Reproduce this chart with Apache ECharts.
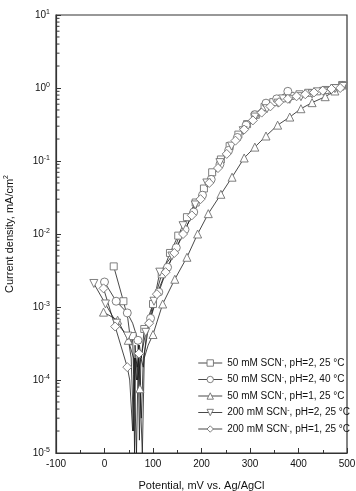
<!DOCTYPE html>
<html><head><meta charset="utf-8">
<script src="https://cdn.jsdelivr.net/npm/echarts@6/dist/echarts.min.js"></script>
<style>html,body{margin:0;padding:0;background:#fff}#c{width:356px;height:491px}</style>
</head><body><div id="c"></div>
<script>
// ---- data: [potential mV, current density mA/cm2] ----
const seriesNames = [
  '50 mM SCN⁻, pH=2, 25 °C',
  '50 mM SCN⁻, pH=2, 40 °C',
  '50 mM SCN⁻, pH=1, 25 °C',
  '200 mM SCN⁻, pH=2, 25 °C',
  '200 mM SCN⁻, pH=1, 25 °C'
];
// marked points
const sqMarks = [[19,3.6e-3],[39,1.2e-3],[58,4.0e-4],[82,5e-4],[100,1.1e-3],[118,2.8e-3],[135,5.5e-3],[152,9.5e-3],[170,1.7e-2],[188,2.7e-2],[205,4.2e-2],[222,7e-2],[240,1.05e-1],[258,1.6e-1],[276,2.3e-1],[294,3.2e-1],[312,4.3e-1],[330,5.5e-1],[348,6.4e-1],[366,7.2e-1],[384,7.8e-1],[402,8.2e-1],[420,8.6e-1],[438,9.0e-1],[456,9.4e-1],[474,1.0],[490,1.1]];
const ciMarks = [[0,2.2e-3],[24,1.2e-3],[47,8.3e-4],[69,3.5e-4],[95,7e-4],[112,1.6e-3],[130,3.5e-3],[148,6.5e-3],[166,1.15e-2],[184,2e-2],[202,3.4e-2],[220,5.6e-2],[238,9e-2],[256,1.4e-1],[274,2.1e-1],[292,3.1e-1],[310,4.3e-1],[333,6.2e-1],[355,7.1e-1],[378,9.0e-1]];
const tuMarks = [[-2,8.5e-4],[27,6.6e-4],[49,3.5e-4],[73,7.6e-5],[100,4.2e-4],[120,1.1e-3],[145,2.4e-3],[170,4.8e-3],[192,1.0e-2],[214,1.9e-2],[240,3.5e-2],[263,6e-2],[288,1.1e-1],[310,1.55e-1],[333,2.2e-1],[357,3.1e-1],[382,4e-1],[405,5.2e-1],[428,6.3e-1],[455,7.6e-1],[475,9.1e-1],[490,1.1]];
const tdMarks = [[-22,2.1e-3],[2,1.1e-3],[25,6e-4],[48,4e-4],[85,4.5e-4],[102,1.2e-3],[114,3e-3],[139,5e-3],[162,1.3e-2],[187,2.5e-2],[211,5e-2],[238,9.5e-2],[262,1.6e-1],[286,2.6e-1],[310,4e-1],[335,5.2e-1],[358,6.2e-1],[382,7e-1],[405,7.6e-1],[428,8.3e-1],[452,9e-1],[475,9.8e-1],[492,1.05]];
const diMarks = [[-2,1.8e-3],[22,5.4e-4],[47,1.5e-4],[71,2.3e-4],[92,6e-4],[108,1.5e-3],[126,3e-3],[144,5.5e-3],[162,1e-2],[180,1.8e-2],[198,3e-2],[216,5e-2],[234,8e-2],[252,1.25e-1],[270,1.9e-1],[288,2.7e-1],[306,3.6e-1],[324,4.6e-1],[342,5.6e-1],[360,6.4e-1],[378,7.1e-1],[396,7.7e-1],[414,8.2e-1],[432,8.7e-1],[450,9.2e-1],[468,9.7e-1],[486,1.0]];
// unmarked points (noisy region near corrosion potential)
const sqTrace = [[48,7e-4],[55,3e-4],[60,1.2e-4],[62,1e-5],[64,2e-4],[68,1.5e-4],[72,3e-4],[76,2e-4]];
const ciTrace = [[58,6e-4],[72,1.5e-5],[75,2e-4],[80,1.5e-4],[86,4e-4]];
const tuTrace = [[60,2e-4],[66,1e-5],[70,3e-4],[78,1e-5],[82,2e-4],[90,3e-4]];
const tdTrace = [[55,2e-4],[60,2e-5],[63,3e-4],[68,1e-4],[75,2e-4]];
const diTrace = [[52,1e-4],[58,2e-5],[62,2e-4],[66,1e-4],[76,3e-5],[80,2e-4],[85,3e-4]];

const xTicks = [-100,0,100,200,300,400,500];
const yDecades = [-5,-4,-3,-2,-1,0,1];

function build(marks, trace){
  const pts = marks.map(p=>({v:p,m:true})).concat(trace.map(p=>({v:p,m:false})));
  pts.sort((a,b)=>a.v[0]-b.v[0]);
  return pts.map(p=> p.m ? {value:p.v} : {value:p.v, symbol:'none'});
}
const minorVals = [];
for (let e=-5;e<1;e++) for (let m=2;m<=9;m++) minorVals.push(m*Math.pow(10,e));

const FONT = 'Liberation Sans, Arial, sans-serif';
const lineCol = '#1a1a1a', markCol = '#707070';
const symbols = ['rect','circle','triangle','triangle','diamond'];
const rots = [0,0,0,180,0];
const sizes = [7,8,8,8,[9,9]];
const dataSets = [build(sqMarks,sqTrace),build(ciMarks,ciTrace),build(tuMarks,tuTrace),build(tdMarks,tdTrace),build(diMarks,diTrace)];

const series = dataSets.map((d,i)=>({
  name: seriesNames[i], type:'line', data:d,
  symbol: symbols[i], symbolRotate: rots[i], symbolSize: sizes[i], showAllSymbol:true,
  lineStyle:{color:lineCol, width:0.8},
  itemStyle:{color:'#fff', borderColor:markCol, borderWidth:0.9},
  emphasis:{disabled:true}, animation:false, z:3
}));

const chart = echarts.init(document.getElementById('c'), null, {renderer:'canvas'});
chart.setOption({
  backgroundColor:'#fff',
  animation:false,
  textStyle:{fontFamily:FONT},
  grid:{left:56, right:9, top:15, bottom:38, containLabel:false, outerBoundsMode:'none',
    show:true, borderColor:'#333', borderWidth:1.2, backgroundColor:'transparent'},
  xAxis:{
    type:'value', min:-100, max:500, interval:100,
    name:'Potential, mV vs. Ag/AgCl', nameLocation:'middle', nameGap:27,
    nameTextStyle:{fontSize:11, color:'#111', fontFamily:FONT},
    axisLine:{onZero:false, lineStyle:{color:'#333', width:1.2}},
    axisTick:{inside:true, length:5, lineStyle:{color:'#333'}},
    minorTick:{show:true, splitNumber:2, length:3, lineStyle:{color:'#333'}},
    axisLabel:{fontSize:10, color:'#111', margin:6, fontFamily:FONT,
      formatter:v=> xTicks.includes(v) ? String(v) : ''},
    splitLine:{show:false}
  },
  yAxis:{
    type:'log', logBase:10, min:1e-5, max:10,
    name:'Current density, mA/cm{s|2}', nameLocation:'middle', nameGap:40,
    nameTextStyle:{fontSize:11, color:'#111', fontFamily:FONT,
      rich:{s:{fontSize:7, verticalAlign:'bottom', padding:[0,0,6,0], fontFamily:FONT}}},
    axisLine:{onZero:false, lineStyle:{color:'#333', width:1.2}},
    axisTick:{inside:true, length:5, lineStyle:{color:'#333'}},
    axisLabel:{color:'#111', margin:6, fontFamily:FONT, fontSize:10,
      formatter:v=>{const e=Math.round(Math.log10(v)); return yDecades.includes(e)?'10{s|'+e+'}':'';},
      rich:{s:{fontSize:7, verticalAlign:'bottom', padding:[0,0,6,0], fontFamily:FONT}}},
    splitLine:{show:false}
  },
  legend:{
    orient:'vertical', right:6, top:357, padding:0, itemGap:5.5,
    itemWidth:24, itemHeight:8, selectedMode:false,
    data:seriesNames,
    itemStyle:{color:'#fff', borderColor:markCol, borderWidth:0.9},
    lineStyle:{color:lineCol, width:0.8},
    textStyle:{fontSize:10, color:'#111', fontFamily:FONT,
      rich:{s:{fontSize:7, verticalAlign:'bottom', padding:[0,0,5,0], fontFamily:FONT}}},
    formatter:n=>n.replace('⁻','{s|-}')
  },
  series: series
});

// log minor ticks on the left axis, positioned through the y axis scale
function drawMinor(){
  const els = minorVals.map(v=>{
    const p = chart.convertToPixel({gridIndex:0}, [-100, v]);
    return {type:'line', silent:true, z:10,
      shape:{x1:p[0], y1:p[1], x2:p[0]+3.5, y2:p[1]},
      style:{stroke:'#333', lineWidth:1}};
  });
  chart.setOption({graphic:{elements:els}});
}
drawMinor();
</script></body></html>
